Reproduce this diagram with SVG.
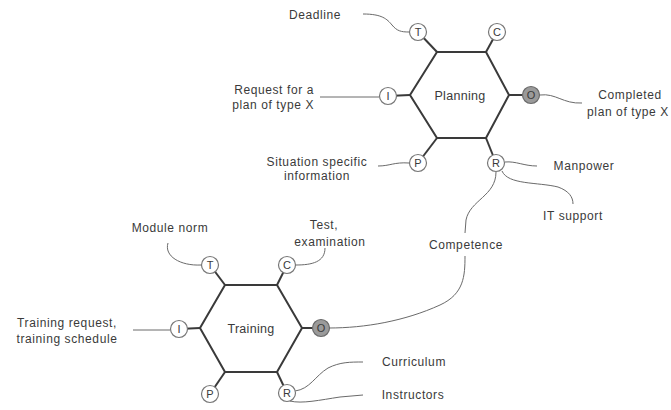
<svg xmlns="http://www.w3.org/2000/svg" width="671" height="410" viewBox="0 0 671 410">
  <style>
    text { font-family: "Liberation Sans", Arial, sans-serif; font-size: 12px; fill: #3a3a3a; letter-spacing: 0.6px; }
    .mid { text-anchor: middle; }
    .end { text-anchor: end; }
    .hex { fill: none; stroke: #3a3a3a; stroke-width: 2; stroke-linejoin: miter; }
    .stub { stroke: #3a3a3a; stroke-width: 2; }
    .port { fill: #ffffff; stroke: #777777; stroke-width: 1.2; }
    .out { fill: #9a9a9a; stroke: #6a6a6a; stroke-width: 1.2; }
    .lbl { font-size: 11px; letter-spacing: 0; }
    .title { font-size: 12.5px; letter-spacing: 0.3px; }
    .link { fill: none; stroke: #6a6a6a; stroke-width: 1; }
  </style>
  <rect width="671" height="410" fill="#ffffff"/>

  <!-- connectors -->
  <g id="connectors">
    <path class="link" d="M363,14 C382,14 387,19 392,25 C397,31 401,32 409,32"/>
    <path class="link" d="M320,97 L379,97"/>
    <path class="link" d="M378,166 C390,166 394,162 409,163"/>
    <path class="link" d="M540,95 C556,93 563,104 582,103"/>
    <path class="link" d="M505,162 C516,161 524,166 537,166"/>
    <path class="link" d="M502,171 C508,185 538,182 558,187 C569,191 573,197 573,204"/>
    <path class="link" d="M496,172 C496,196 470,200 466,220 L465,233"/>
    <path class="link" d="M465,256 C465,276 464,294 440,305 C405,321 365,328 329,328"/>
    <path class="link" d="M168,243 C164,256 180,266 201,265"/>
    <path class="link" d="M296,265 C312,265 325,262 325,248"/>
    <path class="link" d="M133,330 L170,330"/>
    <path class="link" d="M295,391 C310,389 315,376 328,368 C340,362 350,362 363,362"/>
    <path class="link" d="M290,401 C302,404 320,400 340,397 L363,395"/>
  </g>

  <!-- Planning -->
  <g id="planning">
    <line class="stub" x1="437" y1="52" x2="418" y2="32"/>
    <line class="stub" x1="486" y1="52" x2="497" y2="32"/>
    <line class="stub" x1="410" y1="95" x2="388" y2="96"/>
    <line class="stub" x1="509" y1="95" x2="531" y2="95"/>
    <line class="stub" x1="437" y1="138" x2="418" y2="163"/>
    <line class="stub" x1="486" y1="138" x2="496" y2="163"/>
    <polygon class="hex" points="410,95 437,52 486,52 509,95 486,138 437,138"/>
    <text class="mid title" x="460" y="100">Planning</text>
    <g id="planning-t"><circle class="port" cx="418" cy="32" r="8.5"/><text class="mid lbl" x="418" y="36">T</text></g>
    <g id="planning-c"><circle class="port" cx="497" cy="32" r="8.5"/><text class="mid lbl" x="497" y="36">C</text></g>
    <g id="planning-i"><circle class="port" cx="388" cy="96" r="8.5"/><text class="mid lbl" x="388" y="100">I</text></g>
    <g id="planning-o"><circle class="out" cx="531" cy="95" r="8.5"/><text class="mid lbl" x="531" y="99">O</text></g>
    <g id="planning-p"><circle class="port" cx="418" cy="163" r="8.5"/><text class="mid lbl" x="418" y="167">P</text></g>
    <g id="planning-r"><circle class="port" cx="496" cy="163" r="8.5"/><text class="mid lbl" x="496" y="167">R</text></g>
  </g>

  <!-- Training -->
  <g id="training">
    <line class="stub" x1="225" y1="285" x2="210" y2="265"/>
    <line class="stub" x1="277" y1="285" x2="287" y2="265"/>
    <line class="stub" x1="200" y1="328" x2="179" y2="329"/>
    <line class="stub" x1="302" y1="328" x2="321" y2="328"/>
    <line class="stub" x1="225" y1="372" x2="210" y2="394"/>
    <line class="stub" x1="277" y1="372" x2="287" y2="393"/>
    <polygon class="hex" points="200,328 225,285 277,285 302,328 277,372 225,372"/>
    <text class="mid title" x="251" y="333">Training</text>
    <g id="training-t"><circle class="port" cx="210" cy="265" r="8.5"/><text class="mid lbl" x="210" y="269">T</text></g>
    <g id="training-c"><circle class="port" cx="287" cy="265" r="8.5"/><text class="mid lbl" x="287" y="269">C</text></g>
    <g id="training-i"><circle class="port" cx="179" cy="329" r="8.5"/><text class="mid lbl" x="179" y="333">I</text></g>
    <g id="training-o"><circle class="out" cx="321" cy="328" r="8.5"/><text class="mid lbl" x="321" y="332">O</text></g>
    <g id="training-p"><circle class="port" cx="210" cy="394" r="8.5"/><text class="mid lbl" x="210" y="398">P</text></g>
    <g id="training-r"><circle class="port" cx="287" cy="393" r="8.5"/><text class="mid lbl" x="287" y="397">R</text></g>
  </g>

  <!-- labels -->
  <g id="label-deadline"><text class="mid" x="315" y="19">Deadline</text></g>
  <g id="label-request"><text class="end" x="314" y="94">Request for a</text><text class="end" x="314" y="109">plan of type X</text></g>
  <g id="label-situation"><text class="mid" x="317" y="166">Situation specific</text><text class="mid" x="317" y="180">information</text></g>
  <g id="label-completed"><text class="mid" x="630" y="99">Completed</text><text class="mid" x="628" y="116">plan of type X</text></g>
  <g id="label-manpower"><text class="mid" x="584" y="170">Manpower</text></g>
  <g id="label-it"><text class="mid" x="573" y="220">IT support</text></g>
  <g id="label-competence"><text class="mid" x="466" y="249">Competence</text></g>
  <g id="label-module"><text class="mid" x="170" y="232">Module norm</text></g>
  <g id="label-test"><text class="mid" x="324" y="229">Test,</text><text class="mid" x="330" y="246">examination</text></g>
  <g id="label-trainreq"><text class="mid" x="67" y="327">Training request,</text><text class="mid" x="67" y="343">training schedule</text></g>
  <g id="label-curriculum"><text class="mid" x="414" y="366">Curriculum</text></g>
  <g id="label-instructors"><text class="mid" x="413" y="399">Instructors</text></g>
</svg>
